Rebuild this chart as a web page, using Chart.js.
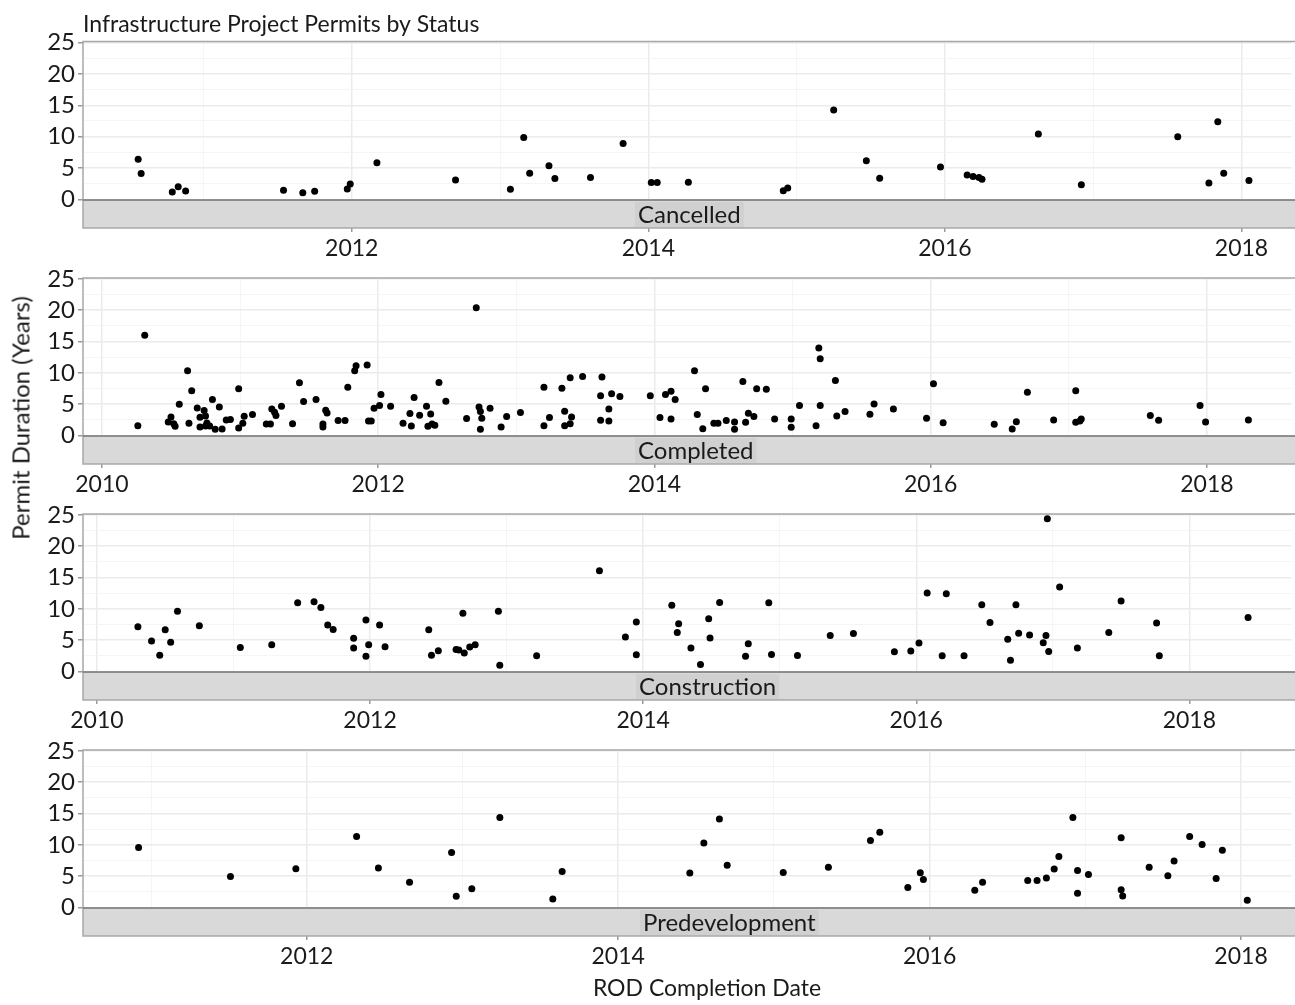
<!DOCTYPE html>
<html lang="en">
<head>
    <meta charset="UTF-8">
    <title>Infrastructure Project Permits by Status</title>
    <style>
        body { margin: 0; background: #fff; }
        #wrap { position: relative; width: 1295px; height: 1005px; overflow: hidden; font-family: Lato, "Open Sans", sans-serif; }
        #wrap canvas { position: absolute; left: 0; }
        #ytitle {
            position: absolute; left: 20px; top: 418px; color: #1a1a1a; font-size: 24px; white-space: nowrap;
            transform: translate(-50%, -50%) rotate(-90deg);
        }
    </style>
</head>
<body>

<div id="wrap">
    <canvas id="p1" width="1295" height="270" style="top:0px"></canvas>
    <canvas id="p2" width="1295" height="270" style="top:236px"></canvas>
    <canvas id="p3" width="1295" height="270" style="top:472px"></canvas>
    <canvas id="p4" width="1295" height="297" style="top:708px"></canvas>
    <div id="ytitle">Permit Duration (Years)</div>
</div>

<script src="https://cdn.jsdelivr.net/npm/chart.js@4.4.0/dist/chart.umd.min.js"></script>
<script>

    // ROD completion date (decimal year) and permit duration (years)
    const cancelledDate = [2010.56, 2010.58, 2010.79, 2010.83, 2010.88, 2011.54, 2011.67, 2011.75, 2011.97, 2011.99,
        2012.17, 2012.70, 2013.07, 2013.16, 2013.20, 2013.33, 2013.37, 2013.61, 2013.83, 2014.02,
        2014.06, 2014.27, 2014.91, 2014.94, 2015.25, 2015.47, 2015.56, 2015.97, 2016.15, 2016.19,
        2016.23, 2016.25, 2016.63, 2016.92, 2017.57, 2017.78, 2017.84, 2017.88, 2018.05];
    const cancelledYears = [6.41, 4.11, 1.18, 2.03, 1.34, 1.44, 1.07, 1.28, 1.66, 2.46,
        5.82, 3.10, 1.60, 9.88, 4.17, 5.34, 3.31, 3.47, 8.92, 2.67,
        2.67, 2.72, 1.39, 1.82, 14.26, 6.14, 3.37, 5.18, 3.90, 3.63,
        3.47, 3.21, 10.42, 2.35, 9.99, 2.62, 12.39, 4.17, 2.99];

    const completedDate = [2010.26, 2010.31, 2010.48, 2010.50, 2010.52, 2010.53, 2010.56, 2010.62, 2010.63, 2010.65,
        2010.69, 2010.71, 2010.71, 2010.74, 2010.75, 2010.75, 2010.76, 2010.78, 2010.80, 2010.82,
        2010.85, 2010.87, 2010.90, 2010.93, 2010.99, 2010.99, 2011.02, 2011.03, 2011.09, 2011.19,
        2011.22, 2011.23, 2011.25, 2011.26, 2011.30, 2011.38, 2011.43, 2011.46, 2011.55, 2011.62,
        2011.63, 2011.60, 2011.60, 2011.71, 2011.76, 2011.78, 2011.83, 2011.84, 2011.92, 2011.93,
        2011.95, 2011.97, 2012.01, 2012.02, 2012.09, 2012.18, 2012.23, 2012.24, 2012.26, 2012.30,
        2012.35, 2012.38, 2012.36, 2012.39, 2012.41, 2012.44, 2012.49, 2012.64, 2012.71, 2012.73,
        2012.74, 2012.75, 2012.74, 2012.81, 2012.89, 2012.93, 2013.03, 2013.20, 2013.20, 2013.24,
        2013.33, 2013.35, 2013.35, 2013.39, 2013.39, 2013.48, 2013.40, 2013.61, 2013.62, 2013.61,
        2013.67, 2013.67, 2013.69, 2013.75, 2013.97, 2014.04, 2014.08, 2014.12, 2014.12, 2014.15,
        2014.29, 2014.31, 2014.35, 2014.37, 2014.43, 2014.46, 2014.52, 2014.58, 2014.58, 2014.64,
        2014.66, 2014.68, 2014.72, 2014.74, 2014.81, 2014.87, 2014.99, 2014.99, 2015.05, 2015.17,
        2015.19, 2015.20, 2015.20, 2015.31, 2015.32, 2015.38, 2015.56, 2015.59, 2015.73, 2015.97,
        2016.02, 2016.09, 2016.46, 2016.59, 2016.62, 2016.70, 2016.89, 2017.05, 2017.05, 2017.08,
        2017.09, 2017.59, 2017.65, 2017.95, 2017.99, 2018.30];
    const completedYears = [1.55, 16.01, 2.14, 2.94, 1.87, 1.45, 4.98, 10.33, 1.93, 7.12,
        4.39, 2.89, 1.34, 3.96, 3.10, 1.50, 1.98, 1.50, 5.73, 0.96,
        4.55, 1.02, 2.46, 2.52, 1.18, 7.44, 1.93, 3.05, 3.32, 1.82,
        1.82, 4.23, 3.69, 3.16, 4.66, 1.87, 8.40, 5.41, 5.73, 4.01,
        3.59, 1.82, 1.34, 2.36, 2.36, 7.71, 10.33, 11.13, 11.24, 2.30,
        2.30, 4.34, 4.76, 6.53, 4.66, 1.93, 3.48, 1.50, 6.05, 3.21,
        4.66, 3.43, 1.45, 1.82, 1.61, 8.46, 5.46, 2.68, 20.40, 4.55,
        3.80, 2.73, 0.96, 4.34, 1.34, 3.00, 3.64, 1.55, 7.71, 2.84,
        7.55, 3.85, 1.55, 1.87, 9.21, 9.42, 2.94, 6.32, 9.32, 2.41,
        2.30, 4.23, 6.64, 6.21, 6.32, 2.84, 6.53, 7.07, 2.62, 5.73,
        10.33, 3.32, 1.07, 7.44, 1.93, 1.93, 2.36, 2.14, 0.96, 8.62,
        2.09, 3.53, 3.00, 7.44, 7.39, 2.62, 2.62, 1.28, 4.76, 1.55,
        13.97, 12.26, 4.76, 8.78, 3.10, 3.80, 3.37, 5.03, 4.23, 2.73,
        8.24, 2.03, 1.77, 1.02, 2.19, 6.91, 2.46, 7.12, 2.09, 2.30,
        2.62, 3.16, 2.41, 4.76, 2.14, 2.46];

    const constructionDate = [2010.30, 2010.40, 2010.46, 2010.50, 2010.54, 2010.59, 2010.75, 2011.05, 2011.28, 2011.47,
        2011.59, 2011.64, 2011.69, 2011.73, 2011.88, 2011.88, 2011.97, 2011.97, 2011.99, 2012.07,
        2012.11, 2012.43, 2012.45, 2012.50, 2012.63, 2012.65, 2012.68, 2012.69, 2012.73, 2012.77,
        2012.94, 2012.95, 2013.22, 2013.68, 2013.87, 2013.95, 2013.95, 2014.21, 2014.25, 2014.26,
        2014.35, 2014.42, 2014.48, 2014.49, 2014.56, 2014.75, 2014.77, 2014.92, 2014.94, 2015.13,
        2015.37, 2015.54, 2015.84, 2015.96, 2016.02, 2016.08, 2016.19, 2016.22, 2016.35, 2016.48,
        2016.54, 2016.67, 2016.69, 2016.73, 2016.75, 2016.83, 2016.93, 2016.95, 2016.96, 2016.97,
        2017.05, 2017.18, 2017.41, 2017.50, 2017.76, 2017.78, 2018.43];
    const constructionYears = [7.13, 4.86, 2.59, 6.64, 4.64, 9.61, 7.29, 3.83, 4.27, 10.96,
        11.12, 10.21, 7.40, 6.70, 5.29, 3.73, 8.21, 2.43, 4.27, 7.40,
        3.94, 6.64, 2.59, 3.29, 3.51, 3.40, 9.29, 2.92, 3.89, 4.27,
        9.61, 0.97, 2.48, 16.09, 5.51, 7.88, 2.65, 10.58, 6.21, 7.61,
        3.73, 1.08, 8.42, 5.35, 11.02, 2.43, 4.43, 10.96, 2.70, 2.54,
        5.72, 6.05, 3.13, 3.24, 4.54, 12.53, 2.48, 12.42, 2.48, 10.64,
        7.83, 5.13, 1.78, 10.64, 6.10, 5.83, 4.59, 5.72, 24.41, 3.19,
        13.50, 3.73, 6.21, 11.23, 7.72, 2.48, 8.59];

    const predevDate = [2010.92, 2011.51, 2011.93, 2012.32, 2012.46, 2012.66, 2012.93, 2012.96, 2013.06, 2013.24,
        2013.58, 2013.64, 2014.46, 2014.55, 2014.65, 2014.70, 2015.06, 2015.35, 2015.62, 2015.68,
        2015.86, 2015.94, 2015.96, 2016.29, 2016.34, 2016.63, 2016.69, 2016.75, 2016.80, 2016.83,
        2016.92, 2016.95, 2016.95, 2017.02, 2017.23, 2017.23, 2017.24, 2017.41, 2017.53, 2017.57,
        2017.67, 2017.75, 2017.84, 2017.88, 2018.04];
    const predevYears = [9.57, 4.95, 6.18, 11.34, 6.29, 4.03, 8.76, 1.77, 2.96, 14.35,
        1.34, 5.75, 5.48, 10.27, 14.14, 6.72, 5.59, 6.40, 10.70, 11.99,
        3.17, 5.54, 4.46, 2.74, 4.03, 4.30, 4.30, 4.68, 6.13, 8.12,
        14.35, 5.91, 2.26, 5.27, 11.13, 2.80, 1.83, 6.40, 5.05, 7.42,
        11.34, 10.05, 4.62, 9.14, 1.13];

    const statusLabels = ['Cancelled', 'Completed', 'Construction', 'Predevelopment'];
    const yTicks = [0, 5, 10, 15, 20, 25];

    const textColor = '#1a1a1a';
    const fontFamily = 'Lato, "Open Sans", sans-serif';
    Chart.defaults.font.family = fontFamily;
    Chart.defaults.color = textColor;

    const STRIP_H = 28;

    // gray strip under each panel holding the status name (+ x title on the last one)
    const stripPlugin = {
        id: 'strip',
        afterDraw(chart, args, opts) {
            const ctx = chart.ctx;
            const a = chart.chartArea;
            const w = chart.width - a.left + 10;
            ctx.save();
            ctx.fillStyle = '#d9d9d9';
            ctx.fillRect(a.left, a.bottom, w, STRIP_H);

            ctx.font = '24px ' + fontFamily;
            const tw = ctx.measureText(opts.label).width;
            ctx.fillStyle = '#d0d0d0';
            ctx.fillRect(opts.labelX - 3, a.bottom + 2, tw + 6, STRIP_H - 3);
            ctx.fillStyle = textColor;
            ctx.textBaseline = 'middle';
            ctx.textAlign = 'left';
            ctx.fillText(opts.label, opts.labelX, a.bottom + STRIP_H / 2 + 1);

            if (opts.xTitle) {
                ctx.font = '23px ' + fontFamily;
                ctx.textAlign = 'center';
                ctx.fillText(opts.xTitle, opts.xTitleX, chart.height - 16);
            }

            // panel border
            ctx.strokeStyle = '#a8a8a8';
            ctx.lineWidth = 1.5;
            ctx.beginPath();
            ctx.moveTo(a.right + 10, a.top);
            ctx.lineTo(a.left, a.top);
            ctx.lineTo(a.left, a.bottom + STRIP_H);
            ctx.lineTo(a.right + 10, a.bottom + STRIP_H);
            ctx.stroke();
            ctx.strokeStyle = '#727272';
            ctx.beginPath();
            ctx.moveTo(a.left, a.bottom);
            ctx.lineTo(a.right + 10, a.bottom);
            ctx.stroke();
            ctx.restore();
        }
    };

    function makePanel(id, idx, dates, years, xMin, xMax, labelX, first, last) {
        const pts = dates.map((d, i) => ({x: d, y: years[i]}));
        return new Chart(document.getElementById(id), {
            type: 'scatter',
            data: {
                datasets: [{
                    data: pts,
                    backgroundColor: '#000',
                    borderWidth: 0,
                    pointRadius: 3.5,
                    pointHoverRadius: 3.5
                }]
            },
            plugins: [stripPlugin],
            options: {
                responsive: false,
                animation: false,
                devicePixelRatio: 1,
                layout: {padding: {top: first ? 0 : 42, left: 0, right: 0, bottom: 0}},
                plugins: {
                    legend: {display: false},
                    tooltip: {enabled: false},
                    title: {
                        display: first,
                        text: 'Infrastructure Project Permits by Status',
                        align: 'start',
                        fullSize: false,
                        color: textColor,
                        font: {size: 23, weight: 'normal'},
                        padding: {top: 11, bottom: 3}
                    },
                    strip: {
                        label: statusLabels[idx],
                        labelX: labelX,
                        xTitle: last ? 'ROD Completion Date' : '',
                        xTitleX: 707
                    }
                },
                scales: {
                    x: {
                        type: 'linear',
                        min: xMin,
                        max: xMax,
                        afterFit: (axis) => { axis.height = last ? 97 : 70; },
                        border: {display: false},
                        grid: {
                            color: (c) => (c.tick && c.tick.value % 2 === 0) ? '#ebebeb' : '#f3f3f3',
                            lineWidth: (c) => (c.tick && c.tick.value % 2 === 0) ? 1.5 : 0.8,
                            tickColor: (c) => (c.tick && c.tick.value % 2 === 0) ? '#999999' : 'rgba(0,0,0,0)',
                            tickLength: STRIP_H + 4,
                            drawTicks: true
                        },
                        ticks: {
                            stepSize: 1,
                            includeBounds: false,
                            autoSkip: false,
                            maxRotation: 0,
                            padding: 3,
                            color: textColor,
                            font: {size: 23},
                            callback: (v) => v % 2 === 0 ? String(v) : ''
                        }
                    },
                    y: {
                        min: -0.1,
                        max: 25.15,
                        afterFit: (axis) => { axis.width = 83; },
                        border: {display: false},
                        grid: {
                            color: (c) => (c.tick && c.tick.value % 5 === 0) ? '#ebebeb' : '#f3f3f3',
                            lineWidth: (c) => (c.tick && c.tick.value % 5 === 0) ? 1.5 : 0.8,
                            tickColor: (c) => (c.tick && yTicks.includes(c.tick.value)) ? '#999999' : 'rgba(0,0,0,0)',
                            tickLength: 5
                        },
                        ticks: {
                            stepSize: 2.5,
                            includeBounds: false,
                            autoSkip: false,
                            padding: 3,
                            color: textColor,
                            font: {size: 24},
                            callback: (v) => yTicks.includes(v) ? String(v) : ''
                        }
                    }
                }
            }
        });
    }

    makePanel('p1', 0, cancelledDate, cancelledYears, 2010.188, 2018.337, 638, true, false);
    makePanel('p2', 1, completedDate, completedYears, 2009.863, 2018.612, 638, false, false);
    makePanel('p3', 2, constructionDate, constructionYears, 2009.898, 2018.748, 639, false, false);
    makePanel('p4', 3, predevDate, predevYears, 2010.563, 2018.324, 643, false, true);
</script>
</body>
</html>
